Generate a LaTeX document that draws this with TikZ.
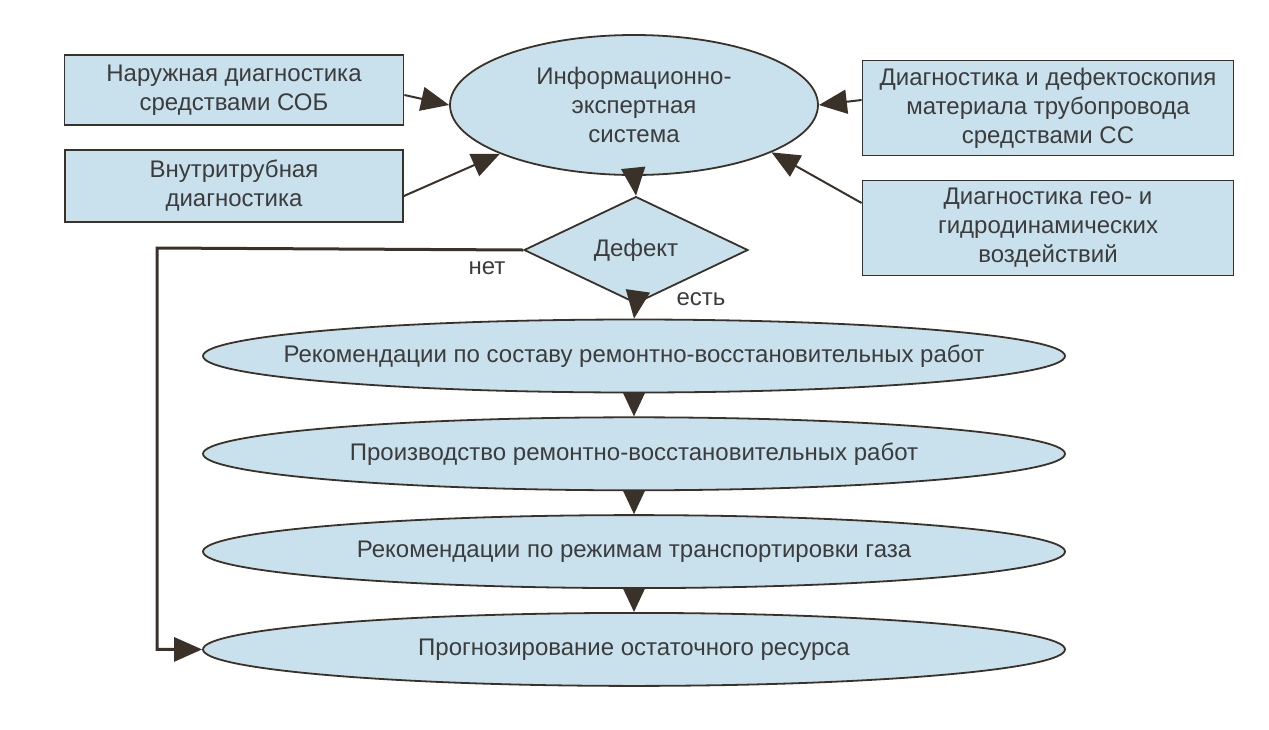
\documentclass[tikz,border=0pt]{standalone}
\usepackage{fontspec}
\setmainfont{Liberation Sans}
\usetikzlibrary{shapes.geometric,arrows.meta,positioning}

\definecolor{paleblue}{HTML}{C8E1EC}
\definecolor{linebrown}{HTML}{3A3128}
\definecolor{inkgray}{HTML}{3C3C3C}

\begin{document}
\begin{tikzpicture}[x=1pt,y=-1pt,
	font=\fontsize{24}{29}\selectfont,text=inkgray,
	source/.style={rectangle,draw=linebrown,line width=1.8pt,fill=paleblue,align=center,inner sep=0pt},
	core/.style={ellipse,draw=linebrown,line width=1.8pt,fill=paleblue,align=center,inner sep=0pt,minimum width=368pt,minimum height=140pt},
	decision/.style={diamond,draw=linebrown,line width=1.8pt,fill=paleblue,inner sep=0pt,minimum width=224pt,minimum height=102pt},
	stage/.style={ellipse,draw=linebrown,line width=1.8pt,fill=paleblue,inner sep=0pt,minimum width=862pt,minimum height=73pt},
	link/.style={draw=linebrown,line width=2pt,-{Triangle[length=28pt,width=24pt]}},
	shortlink/.style={draw=linebrown,line width=2pt,-{Triangle[length=24pt,width=22pt]}}]

	\useasboundingbox (0,0) rectangle (1269,729);

	\node[core] (ies) at (634,105) {Информационно-\\экспертная\\система};

	\node[source,minimum width=339pt,minimum height=70pt] (sob) at (234,90) {Наружная диагностика\\средствами СОБ};
	\node[source,minimum width=338pt,minimum height=72pt] (vtd) at (234,186) {Внутритрубная\\диагностика};
	\node[source,minimum width=371pt,minimum height=95pt] (dds) at (1048,108) {Диагностика и дефектоскопия\\материала трубопровода\\средствами СС};
	\node[source,minimum width=371pt,minimum height=95pt] (geo) at (1048,228) {Диагностика гео- и\\гидродинамических\\воздействий};

	\node[decision] (defect) at (636,250) {Дефект};
	\node (no) at (487,268) {нет};
	\node (yes) at (701,299) {есть};

	\node[stage] (rec) at (634,356) {\makebox[0pt]{Рекомендации по составу ремонтно-восстановительных работ}};
	\node[stage] (work) [below=23pt of rec] {\makebox[0pt]{Производство ремонтно-восстановительных работ}};
	\node[stage] (mode) [below=23pt of work] {\makebox[0pt]{Рекомендации по режимам транспортировки газа}};
	\node[stage] (life) [below=23pt of mode] {\makebox[0pt]{Прогнозирование остаточного ресурса}};

	\coordinate (turn) at (157,248);

	\draw[link] ([yshift=-5pt]sob.east) -- (ies.west);
	\draw[link] ([yshift=-10pt]vtd.east) -- (ies.200);
	\draw[link] ([yshift=8pt]dds.west) -- (ies.east);
	\draw[link] ([yshift=25pt]geo.west) -- (ies.-19);
	\draw[link] (ies.south) -- (defect.north);
	\draw[link] (defect.south) -- (rec.north);
	\draw[shortlink] (rec.south) -- (work.north);
	\draw[shortlink] (work.south) -- (mode.north);
	\draw[shortlink] (mode.south) -- (life.north);
	\draw[link,line width=3pt] (defect.west) -- (turn) |- (life.west);

\end{tikzpicture}
\end{document}
